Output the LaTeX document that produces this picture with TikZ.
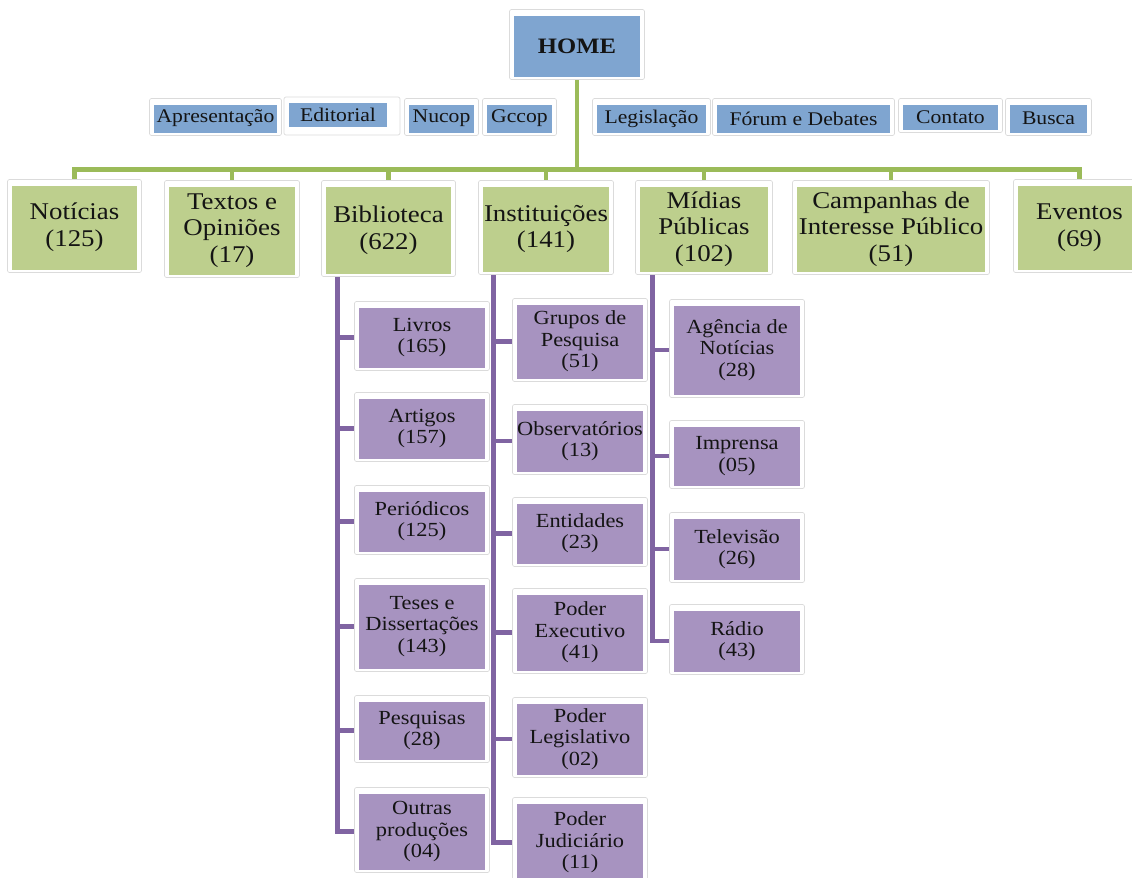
\documentclass[tikz,border=0pt]{standalone}
\usepackage{fontspec}
\setmainfont{Liberation Serif}[FakeStretch=1.12]
\usetikzlibrary{backgrounds}
\definecolor{gfill}{RGB}{189,207,141}
\definecolor{gln}{RGB}{155,187,89}
\definecolor{bfill}{RGB}{127,165,208}
\definecolor{pfill}{RGB}{167,147,192}
\definecolor{pln}{RGB}{128,100,162}
\tikzset{
  frame/.style={draw=black!14, fill=white, line width=0.5pt, rounded corners=1.5pt},
  boxbase/.style={inner sep=0pt, align=center, text=black!92},
  homebox/.style={boxbase, fill=bfill, font=\fontsize{16.5}{18}\selectfont\bfseries},
  topbox/.style={boxbase, fill=bfill, font=\fontsize{14.5}{16}\selectfont},
  catbox/.style={boxbase, fill=gfill, font=\fontsize{18}{20}\selectfont},
  subbox/.style={boxbase, fill=pfill, font=\fontsize{15}{16}\selectfont},
  gconn/.style={draw=gln, line width=3.6pt},
  pconn/.style={draw=pln, line width=3.6pt},
}
% #1 style, #2 name, #3 x1, #4 y1, #5 x2, #6 y2, #7 text
\newcommand\mkbox[7]{%
  \draw[frame] (#3-4.5,#4-4.5) rectangle (#5+4.5,#6+4.5);
  \node[#1, minimum width={(#5-#3)*0.75pt}, minimum height={(#6-#4)*0.75pt}]
    (#2) at ({(#3+#5)/2},{(#4+#6)/2+1.5}) {#7};}
\begin{document}
\begin{tikzpicture}[x=0.75pt,y=-0.75pt]
\useasboundingbox (0,0) rectangle (1132,878);
\clip (0,0) rectangle (1132,878);

% HOME
\mkbox{homebox}{home}{514}{14}{640}{75}{HOME}

% top row (blue)
\mkbox{topbox}{apres}{154}{103}{277}{131}{Apresentação}
\draw[frame] (284,97) rectangle (400,135);
\node[topbox, minimum width={98*0.75pt}, minimum height={24*0.75pt}] (edit) at (338,115) {Editorial};
\mkbox{topbox}{nucop}{409}{103}{474}{131}{Nucop}
\mkbox{topbox}{gccop}{487}{103}{552}{131}{Gccop}
\mkbox{topbox}{legis}{597}{103}{706}{131}{Legislação}
\mkbox{topbox}{forum}{717}{103}{890}{131}{Fórum e Debates}
\mkbox{topbox}{contato}{903}{103}{998}{128}{Contato}
\mkbox{topbox}{busca}{1010}{103}{1087}{131}{Busca}

% categories (green)
\mkbox{catbox}{noticias}{12}{184}{137}{268}{Notícias\\(125)}
\mkbox{catbox}{textos}{169}{185}{295}{273}{Textos e\\Opiniões\\(17)}
\mkbox{catbox}{biblio}{326}{185}{451}{272}{Biblioteca\\(622)}
\mkbox{catbox}{instit}{483}{185}{609}{270}{Instituições\\(141)}
\mkbox{catbox}{midias}{640}{185}{768}{270}{Mídias\\Públicas\\(102)}
\mkbox{catbox}{campan}{797}{185}{985}{270}{Campanhas de\\Interesse Público\\(51)}
\mkbox{catbox}{eventos}{1018}{184}{1141}{268}{Eventos\\(69)}

% Biblioteca children
\mkbox{subbox}{livros}{359}{306}{485}{366}{Livros\\(165)}
\mkbox{subbox}{artigos}{359}{397}{485}{457}{Artigos\\(157)}
\mkbox{subbox}{periodicos}{359}{490}{485}{550}{Periódicos\\(125)}
\mkbox{subbox}{teses}{359}{583}{485}{667}{Teses e\\Dissertações\\(143)}
\mkbox{subbox}{pesquisas}{359}{700}{485}{758}{Pesquisas\\(28)}
\mkbox{subbox}{outras}{359}{792}{485}{868}{Outras\\produções\\(04)}

% Instituições children
\mkbox{subbox}{grupos}{517}{303}{643}{377}{Grupos de\\Pesquisa\\(51)}
\mkbox{subbox}{observ}{517}{409}{643}{470}{Observatórios\\(13)}
\mkbox{subbox}{entid}{517}{502}{643}{562}{Entidades\\(23)}
\mkbox{subbox}{exec}{517}{593}{643}{669}{Poder\\Executivo\\(41)}
\mkbox{subbox}{legisl}{517}{702}{643}{773}{Poder\\Legislativo\\(02)}
\mkbox{subbox}{judic}{517}{802}{643}{880}{Poder\\Judiciário\\(11)}

% Mídias children
\mkbox{subbox}{agencia}{674}{304}{800}{393}{Agência de\\Notícias\\(28)}
\mkbox{subbox}{imprensa}{674}{425}{800}{484}{Imprensa\\(05)}
\mkbox{subbox}{tv}{674}{517}{800}{578}{Televisão\\(26)}
\mkbox{subbox}{radio}{674}{609}{800}{670}{Rádio\\(43)}

\begin{pgfonlayer}{background}
  \fill[white] (0,0) rectangle (1132,878);
  \foreach \c in {noticias,textos,biblio,instit,midias,campan,eventos}
    \draw[gconn] (home.south) -- ++(0,93) -| (\c.north);
  \foreach \c in {livros,artigos,periodicos,teses,pesquisas,outras}
    \draw[pconn] (biblio.south west) ++(12,0) |- (\c.west);
  \foreach \c in {grupos,observ,entid,exec,legisl,judic}
    \draw[pconn] (instit.south west) ++(11,0) |- (\c.west);
  \foreach \c in {agencia,imprensa,tv,radio}
    \draw[pconn] (midias.south west) ++(13,0) |- (\c.west);
\end{pgfonlayer}
\end{tikzpicture}
\end{document}
